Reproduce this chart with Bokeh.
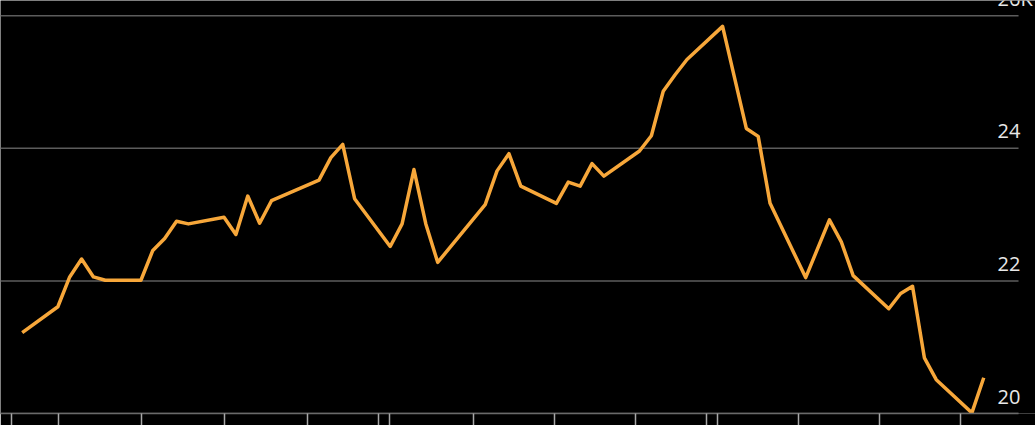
from bokeh.plotting import figure
from bokeh.models import Range1d, FixedTicker, ColumnDataSource, LabelSet
from bokeh.core.properties import value
from bokeh.embed import file_html
from bokeh.resources import INLINE

# week index of each visible vertex of the line, and its value (thousands)
week = [0, 3, 4, 5, 6, 7, 10, 11, 12, 13, 14, 17, 18, 19, 20, 21, 25, 26, 27, 28,
        31, 32, 33, 34, 35, 39, 40, 41, 42, 45, 46, 47, 48, 49, 52, 53, 54, 55, 56, 59,
        61, 62, 63, 66, 68, 69, 70, 73, 74, 75, 76, 77, 80, 81]
price = [21.22, 21.61, 22.06, 22.33, 22.06, 22.01, 22.01, 22.46, 22.64, 22.90,
         22.86, 22.96, 22.70, 23.28, 22.87, 23.21, 23.52, 23.86, 24.06, 23.24,
         22.52, 22.86, 23.68, 22.86, 22.28, 23.15, 23.66, 23.92, 23.43, 23.17,
         23.49, 23.43, 23.77, 23.58, 23.96, 24.19, 24.86, 25.11, 25.34, 25.84,
         24.30, 24.18, 23.17, 22.05, 22.92, 22.59, 22.08, 21.58, 21.81, 21.92,
         20.84, 20.51, 20.01, 20.54]

# x-axis tick positions (in week units) and y-axis tick values / labels
x_ticks = [-0.93, 3.09, 10.05, 17.04, 24.01, 30.04, 30.97, 37.99, 44.87, 51.69,
           57.62, 58.54, 65.37, 72.19, 79.01]
y_ticks = [20, 22, 24, 26]
y_labels = ["20", "22", "24", "26K"]

X_START, X_END = -1.83, 85.36   # visible x range (week units)
GRID_END = 83.93                # where the grid lines and axis line stop
Y_START, Y_END = 20.0, 26.23

p = figure(width=1035, height=425, output_backend="svg", toolbar_location=None,
           x_range=Range1d(X_START, X_END), y_range=Range1d(Y_START, Y_END),
           min_border_left=0, min_border_right=0, min_border_top=0, min_border_bottom=12)
p.background_fill_color = "black"
p.border_fill_color = "black"
p.outline_line_color = None

p.yaxis.visible = False
p.xgrid.visible = False
p.ygrid.visible = False

# horizontal grid lines, stopping short of the right edge
p.segment(x0=[X_START] * len(y_ticks), x1=[GRID_END] * len(y_ticks),
          y0=y_ticks, y1=y_ticks, line_color="#5c5c5c", line_width=1.5)

xa = p.xaxis[0]
xa.ticker = FixedTicker(ticks=x_ticks)
xa.bounds = (X_START, GRID_END)
xa.minor_tick_line_color = None
xa.major_tick_in = 0
xa.major_tick_out = 12
xa.major_tick_line_color = "#a8a8a8"
xa.major_tick_line_width = 1.5
xa.axis_line_color = "#6a6a6a"
xa.axis_line_width = 1.5
xa.major_label_text_color = None
xa.major_label_text_font_size = "1px"
xa.major_label_standoff = 0

p.line(week, price, line_color="#f7a73a", line_width=3.5, line_join="round")

src = ColumnDataSource(dict(x=[GRID_END] * len(y_ticks), y=y_ticks, text=y_labels))
p.add_layout(LabelSet(x="x", y="y", text="text", source=src, x_offset=-21, y_offset=10,
                      text_align="left", text_baseline="alphabetic",
                      text_color="#e8e8e8", text_font=value("Open Sans"),
                      text_font_size="20px"))

open("out.html", "w").write(file_html(p, INLINE))
